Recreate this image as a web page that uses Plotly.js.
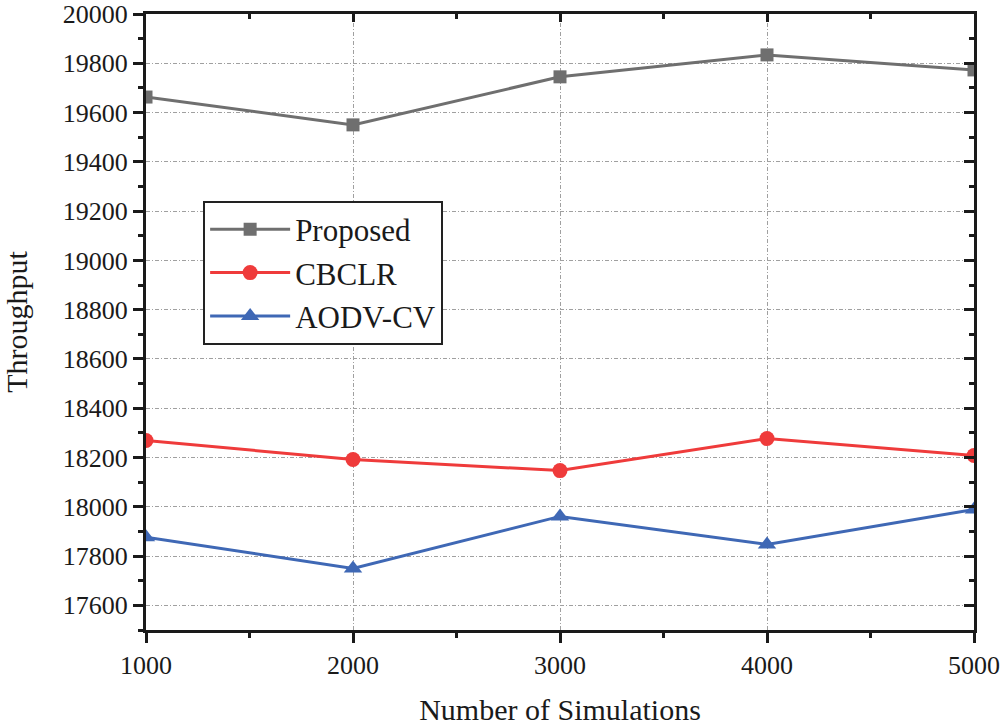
<!DOCTYPE html>
<html>
<head>
<meta charset="utf-8">
<script src="https://cdn.plot.ly/plotly-3.0.1.min.js"></script>
<style>html,body{margin:0;padding:0;background:#fff}#chart{width:1000px;height:726px}</style>
</head>
<body>
<div id="chart"></div>
<script>
const simulations = [1000, 2000, 3000, 4000, 5000];
const proposed = [19663, 19550, 19745, 19834, 19773];
const cbclr = [18269, 18192, 18147, 18277, 18208];
const aodvcv = [17876, 17750, 17961, 17847, 17989];
const seriesNames = ["Proposed", "CBCLR", "AODV-CV"];

const FONT = "Liberation Serif, Times New Roman, serif";
const colors = ["#6f6f6f", "#ef3b3b", "#3f68b5"];
const symbols = ["square", "circle", "triangle-up"];
const sizes = [13, 15, 16];
const series = [proposed, cbclr, aodvcv];

const traces = series.map((vals, i) => ({
  x: simulations, y: vals, name: seriesNames[i], type: "scatter", mode: "lines+markers",
  line: {color: colors[i], width: 3},
  marker: {color: colors[i], symbol: symbols[i], size: sizes[i]},
  cliponaxis: true
}));
traces.push({x: simulations, y: proposed, xaxis: "x2", yaxis: "y2", mode: "markers",
  marker: {opacity: 0}, showlegend: false, hoverinfo: "skip"});

const axBase = {
  showline: true, linecolor: "#1a1a1a", linewidth: 3,
  tickcolor: "#1a1a1a", tickwidth: 3, zeroline: false,
  tickfont: {family: FONT, size: 26, color: "#1a1a1a"}
};

const layout = {
  width: 1000, height: 726,
  margin: {l: 146, r: 26, t: 14, b: 96},
  paper_bgcolor: "#fff", plot_bgcolor: "#fff",
  font: {family: FONT, color: "#1a1a1a"},
  showlegend: true,
  legend: {
    x: 0.069, y: 0.697, xanchor: "left", yanchor: "top",
    bgcolor: "#fff", bordercolor: "#222", borderwidth: 2,
    font: {family: FONT, size: 31, color: "#1a1a1a"},
    itemwidth: 80, tracegroupgap: 0
  },
  xaxis: Object.assign({}, axBase, {
    range: [1000, 5000], tickvals: simulations, ticktext: simulations.map(String),
    ticks: "outside", ticklen: 10,
    showgrid: true, gridcolor: "#a0a0a0", gridwidth: 1, griddash: "4px,2px,1px,2px",
    minor: {ticks: "outside", ticklen: 5, tickwidth: 3, tickcolor: "#1a1a1a", dtick: 500, tick0: 1000, showgrid: false},
    title: {text: "Number of Simulations", font: {family: FONT, size: 30, color: "#1a1a1a"}, standoff: 22}
  }),
  yaxis: Object.assign({}, axBase, {
    range: [17500, 20000], dtick: 200, tick0: 17600, tickformat: "d",
    ticks: "outside", ticklen: 10,
    showgrid: true, gridcolor: "#a0a0a0", gridwidth: 1, griddash: "4px,2px,1px,2px",
    minor: {ticks: "outside", ticklen: 5, tickwidth: 3, tickcolor: "#1a1a1a", dtick: 100, tick0: 17500, showgrid: false},
    title: {text: "Throughput", font: {family: FONT, size: 30, color: "#1a1a1a"}, standoff: 30}
  }),
  xaxis2: Object.assign({}, axBase, {
    overlaying: "x", side: "top", range: [1000, 5000], tickvals: simulations,
    showticklabels: false, ticks: "inside", ticklen: 8, showgrid: false,
    minor: {ticks: "inside", ticklen: 5, tickwidth: 3, tickcolor: "#1a1a1a", dtick: 500, tick0: 1000}
  }),
  yaxis2: Object.assign({}, axBase, {
    overlaying: "y", side: "right", range: [17500, 20000], dtick: 200, tick0: 17600,
    showticklabels: false, ticks: "inside", ticklen: 10, showgrid: false,
    minor: {ticks: "inside", ticklen: 5, tickwidth: 3, tickcolor: "#1a1a1a", dtick: 100, tick0: 17500}
  })
};

Plotly.newPlot("chart", traces, layout, {displayModeBar: false, staticPlot: true});
</script>
</body>
</html>
